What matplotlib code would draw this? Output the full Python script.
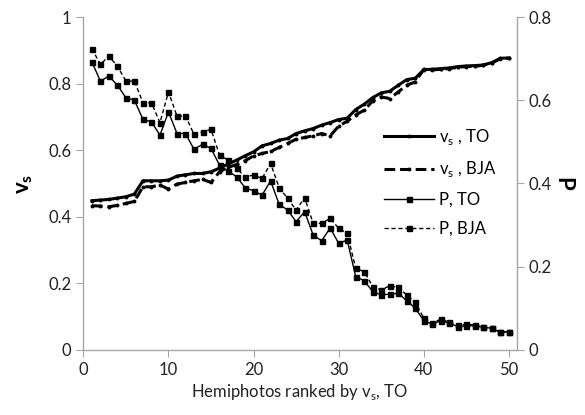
import matplotlib.pyplot as plt

# dane
ranga = list(range(1, 51))

vs_TO = [0.448, 0.450, 0.452, 0.456, 0.460, 0.468, 0.508, 0.508, 0.508, 0.510,
         0.522, 0.526, 0.530, 0.530, 0.535, 0.546, 0.558, 0.570, 0.583, 0.595,
         0.613, 0.620, 0.630, 0.635, 0.650, 0.658, 0.665, 0.675, 0.683, 0.692,
         0.696, 0.722, 0.738, 0.758, 0.772, 0.777, 0.795, 0.812, 0.816, 0.842,
         0.843, 0.845, 0.847, 0.851, 0.853, 0.854, 0.856, 0.863, 0.876, 0.877]

vs_BJA = [0.433, 0.432, 0.430, 0.434, 0.440, 0.446, 0.490, 0.490, 0.495, 0.483,
          0.498, 0.503, 0.508, 0.512, 0.503, 0.535, 0.548, 0.557, 0.568, 0.583,
          0.590, 0.596, 0.608, 0.620, 0.633, 0.638, 0.643, 0.650, 0.643, 0.672,
          0.687, 0.706, 0.720, 0.748, 0.760, 0.755, 0.775, 0.795, 0.805, 0.843,
          0.841, 0.843, 0.845, 0.849, 0.851, 0.852, 0.855, 0.862, 0.875, 0.876]

P_TO = [0.692, 0.646, 0.658, 0.636, 0.606, 0.600, 0.554, 0.548, 0.516, 0.572,
        0.520, 0.520, 0.482, 0.494, 0.484, 0.444, 0.430, 0.416, 0.390, 0.382,
        0.372, 0.406, 0.350, 0.336, 0.308, 0.332, 0.276, 0.262, 0.293, 0.256,
        0.264, 0.176, 0.166, 0.140, 0.132, 0.134, 0.136, 0.118, 0.100, 0.070,
        0.062, 0.070, 0.064, 0.056, 0.058, 0.058, 0.054, 0.052, 0.042, 0.044]

P_BJA = [0.724, 0.686, 0.706, 0.682, 0.646, 0.646, 0.594, 0.594, 0.546, 0.620,
         0.562, 0.562, 0.518, 0.524, 0.530, 0.468, 0.456, 0.436, 0.416, 0.420,
         0.412, 0.448, 0.390, 0.364, 0.336, 0.366, 0.304, 0.304, 0.316, 0.292,
         0.280, 0.196, 0.188, 0.152, 0.144, 0.154, 0.150, 0.132, 0.114, 0.076,
         0.064, 0.074, 0.066, 0.060, 0.061, 0.060, 0.054, 0.052, 0.042, 0.044]

x_ticks = [0, 10, 20, 30, 40, 50]
y1_ticks = [0, 0.2, 0.4, 0.6, 0.8, 1]
y2_ticks = [0, 0.2, 0.4, 0.6, 0.8]

plt.rcParams['font.family'] = ['Lato', 'DejaVu Sans']
szary = '#a6a6a6'

fig = plt.figure(figsize=(5.85, 4.15), dpi=100)
ax = fig.add_axes([0.1425, 0.157, 0.7405, 0.802])
ax2 = ax.twinx()

l1, = ax.plot(ranga, vs_TO, color='black', lw=2.2, marker='o', ms=1.8,
              label='v$_\\mathregular{s}$ , TO')
l2, = ax.plot(ranga, vs_BJA, color='black', lw=2.2, ls=(0, (3.5, 1.6)),
              marker='o', ms=1.8, label='v$_\\mathregular{s}$ , BJA')
l3, = ax2.plot(ranga, P_TO, color='black', lw=1.0, marker='s', ms=3.6,
               label='P, TO')
l4, = ax2.plot(ranga, P_BJA, color='black', lw=1.0, ls=(0, (3, 2)),
               marker='s', ms=3.6, label='P, BJA')

ax.set_xlim(0, 50.9)
ax.set_ylim(0, 1)
ax2.set_ylim(0, 0.8)
ax.set_xticks(x_ticks)
ax.set_yticks(y1_ticks)
ax.set_yticklabels(['0', '0.2', '0.4', '0.6', '0.8', '1'])
ax2.set_yticks(y2_ticks)
ax2.set_yticklabels(['0', '0.2', '0.4', '0.6', '0.8'])

for a in (ax, ax2):
    a.spines['top'].set_visible(False)
    for s in ('left', 'right', 'bottom'):
        a.spines[s].set_color(szary)
        a.spines[s].set_linewidth(1.0)
    a.tick_params(direction='out', length=5, color=szary, labelsize=12,
                  labelcolor='#222222')
ax.spines['right'].set_visible(False)
ax2.spines['left'].set_visible(False)
ax2.spines['bottom'].set_visible(False)

ax.set_xlabel('Hemiphotos ranked by v$_\\mathregular{s}$, TO', fontsize=12,
              color='#222222', labelpad=3)
ax.set_ylabel('v$_\\mathregular{s}$', fontsize=16, fontweight='bold', labelpad=10)
ax2.set_ylabel('P', fontsize=16, fontweight='bold', rotation=-90, labelpad=16)

ax.legend(handles=[l1, l2, l3, l4], loc='upper left',
          bbox_to_anchor=(0.66, 0.715), frameon=False, fontsize=12,
          handlelength=3.0, handletextpad=0.3, labelspacing=0.75)

fig.savefig('out.png', dpi=100)
